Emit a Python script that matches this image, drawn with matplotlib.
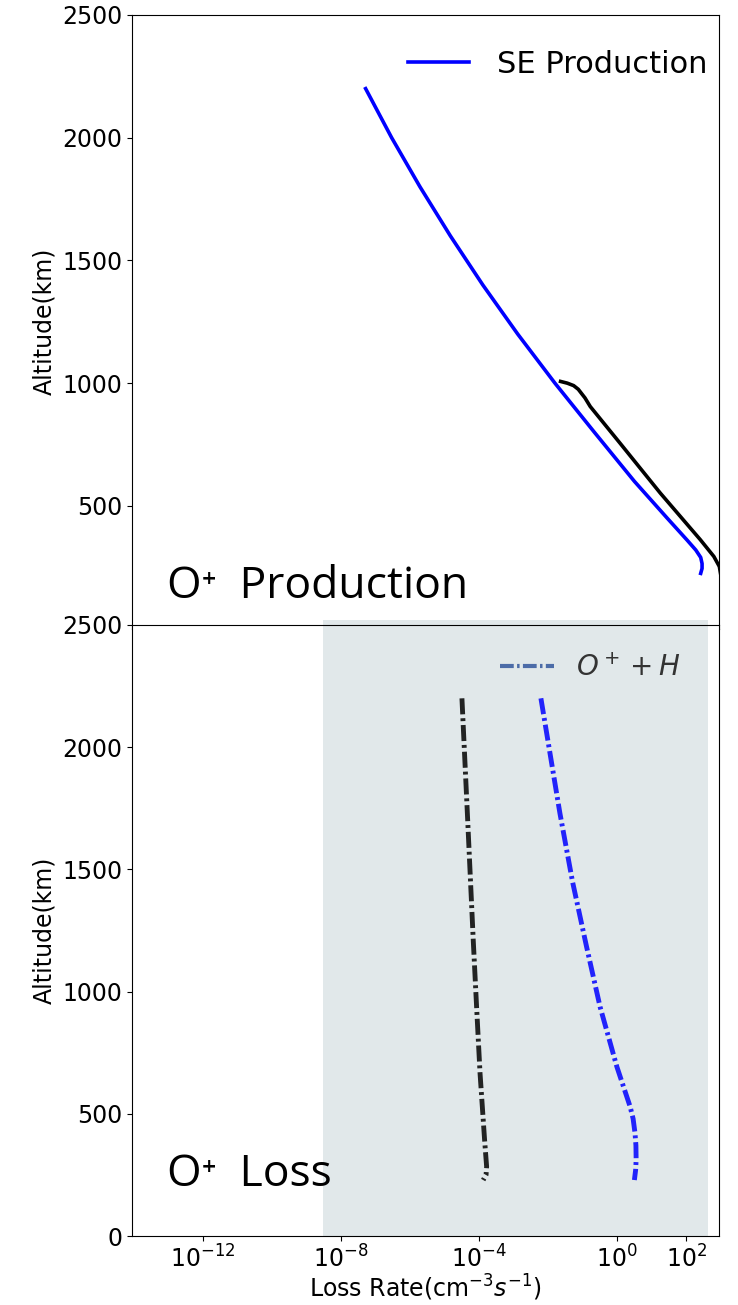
import matplotlib
matplotlib.use("Agg")
import matplotlib.pyplot as plt
from matplotlib.lines import Line2D

# production profiles (altitude km, rate cm^-3 s^-1)
se_alt = [2200, 2000, 1800, 1600, 1400, 1200, 1000, 800, 600, 450, 360,
          320, 290, 265, 245, 225]
se_rate = [5.2e-8, 2.95e-7, 1.95e-6, 1.48e-5, 1.29e-4, 1.32e-3, 1.58e-2,
           0.219, 3.16, 28.2, 107, 190, 263, 288, 288, 263]

tot_alt = [1007, 1000, 990, 975, 958, 940, 905, 755, 552, 362, 294, 253, 220]
tot_rate = [2.3e-2, 3.6e-2, 5.5e-2, 7.5e-2, 9.3e-2, 0.117, 0.166, 1.22, 17.8,
            257, 631, 912, 1000]

# loss profiles
loss1_alt = [2200, 1700, 1211, 938, 666, 393, 284, 250, 229]
loss1_rate = [3.2e-5, 4.7e-5, 6.8e-5, 8.5e-5, 1.07e-4, 1.45e-4, 1.66e-4,
              1.6e-4, 1.32e-4]

oh_alt = [2200, 1730, 1450, 1184, 938, 693, 529, 480, 420, 370, 311, 270, 229]
oh_rate = [6.2e-3, 2.2e-2, 5.1e-2, 0.13, 0.32, 0.98, 2.38, 2.9, 3.3, 3.5,
           3.55, 3.43, 3.16]

xlim = (10**-14.05, 10**2.95)
shade = (10**-8.52, 10**2.64)
xticks = [1e-12, 1e-8, 1e-4, 1e0, 1e2]
yticks = [0, 500, 1000, 1500, 2000, 2500]

plt.rcParams['font.size'] = 17
W, H = 738, 1305
fig = plt.figure(figsize=(W / 100, H / 100), dpi=100)
ax1 = fig.add_axes([132 / W, 1 - 628.6 / H, 587 / W, 613.6 / H])
ax2 = fig.add_axes([132 / W, 1 - 1236 / H, 587 / W, 611 / H])

# top: production
ax1.plot(se_rate, se_alt, color='blue', lw=2.6, label='SE Production')
ax1.plot(tot_rate, tot_alt, color='black', lw=2.6)
ax1.set_xscale('log')
ax1.set_xlim(*xlim)
ax1.set_ylim(0, 2500)
ax1.set_yticks(yticks[1:])
ax1.set_xticks([])
ax1.minorticks_off()
ax1.set_ylabel('Altitude(km)', fontsize=17)
ax1.legend(loc='center right', bbox_to_anchor=(0.981, 0.920), frameon=False,
           fontsize=22, handlelength=2.0, handletextpad=0.92,
           borderaxespad=0, borderpad=0)
ax1.text(0.059, 0.05, 'O⁺  Production', transform=ax1.transAxes,
         family=['Open Sans', 'DejaVu Sans'], fontsize=32, va='baseline')

# bottom: loss
ax2.axvspan(*shade, ymin=0, ymax=1.009, color='#e1e8ea', lw=0, clip_on=False)
dd = (3.3, 0.8, 0.6, 0.8)
ax2.plot(loss1_rate, loss1_alt, color='black', alpha=0.85, lw=3.5, dashes=dd)
ax2.plot(oh_rate, oh_alt, color='blue', alpha=0.85, lw=3.5, dashes=dd)
ax2.set_xscale('log')
ax2.set_xlim(*xlim)
ax2.set_ylim(0, 2500)
ax2.set_yticks(yticks)
ax2.set_xticks(xticks)
ax2.minorticks_off()
ax2.set_ylabel('Altitude(km)', fontsize=17)
ax2.set_xlabel(r'Loss Rate(cm$^{-3}$$s^{-1}$)', fontsize=17, labelpad=0)
h = Line2D([], [], color='#4c6ca8', lw=3.0, dashes=dd)
ax2.legend([h], [r'$O^+ + H$'], loc='center right',
           bbox_to_anchor=(0.934, 0.9296), frameon=False, fontsize=20,
           handlelength=1.94, handletextpad=0.79, labelcolor='#333333',
           borderaxespad=0, borderpad=0)
ax2.text(0.059, 0.082, 'O⁺  Loss', transform=ax2.transAxes,
         family=['Open Sans', 'DejaVu Sans'], fontsize=32, va='baseline', zorder=5)

fig.savefig('out.png', dpi=100)
